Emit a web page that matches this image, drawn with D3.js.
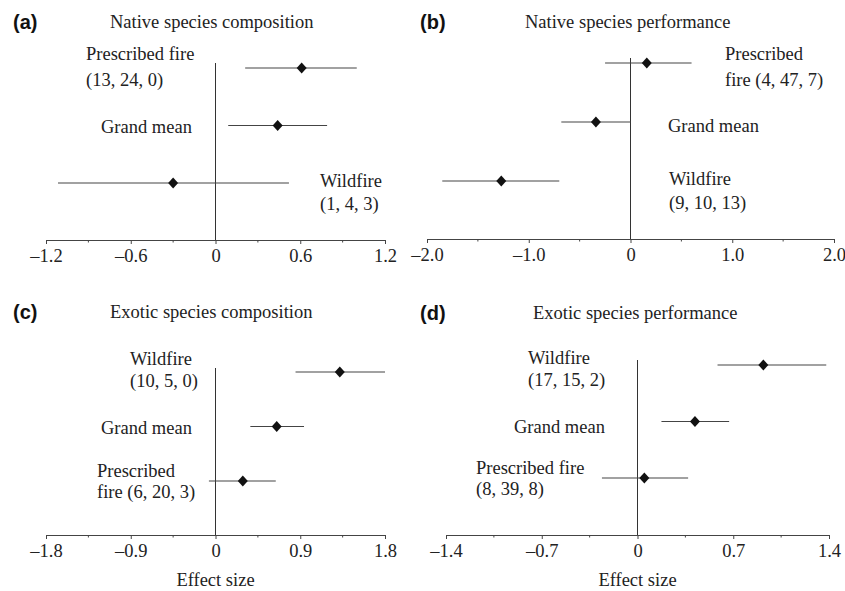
<!DOCTYPE html>
<html>
<head>
<meta charset="utf-8">
<script src="https://cdn.jsdelivr.net/npm/d3@7"></script>
<style>
  body { margin: 0; background: #fff; }
  svg { display: block; }
  .lbl { font-family: "Liberation Serif", "Times New Roman", serif; font-size: 18.5px; fill: #222; }
  .tag { font-family: "Liberation Sans", Arial, sans-serif; font-size: 20px; font-weight: bold; fill: #111; }
</style>
</head>
<body>
<svg id="chart" width="845" height="591"></svg>
<script>
// data
var rowNames = ["top", "mid", "bottom"];

var titlesAll = ["Native species composition", "Native species performance",
                 "Exotic species composition", "Exotic species performance"];
var tagsAll = ["(a)", "(b)", "(c)", "(d)"];

// effect size means, lower and upper CI, top row to bottom row
var meanA = [0.61, 0.44, -0.30];
var lowA  = [0.21, 0.09, -1.115];
var highA = [1.00, 0.79, 0.52];
var textA = [["Prescribed fire", "(13, 24, 0)"], ["Grand mean"], ["Wildfire", "(1, 4, 3)"]];

var meanB = [0.16, -0.34, -1.27];
var lowB  = [-0.25, -0.68, -1.85];
var highB = [0.60, 0.0, -0.70];
var textB = [["Prescribed", "fire (4, 47, 7)"], ["Grand mean"], ["Wildfire", "(9, 10, 13)"]];

var meanC = [1.32, 0.65, 0.29];
var lowC  = [0.85, 0.37, -0.07];
var highC = [1.80, 0.94, 0.64];
var textC = [["Wildfire", "(10, 5, 0)"], ["Grand mean"], ["Prescribed", "fire (6, 20, 3)"]];

var meanD = [0.92, 0.42, 0.05];
var lowD  = [0.585, 0.175, -0.26];
var highD = [1.38, 0.67, 0.37];
var textD = [["Wildfire", "(17, 15, 2)"], ["Grand mean"], ["Prescribed fire", "(8, 39, 8)"]];

var ticksA = [-1.2, -0.6, 0, 0.6, 1.2], tickTextA = ["\u20131.2", "\u20130.6", "0", "0.6", "1.2"];
var ticksB = [-2, -1, 0, 1, 2],         tickTextB = ["\u20132.0", "\u20131.0", "0", "1.0", "2.0"];
var ticksC = [-1.8, -0.9, 0, 0.9, 1.8], tickTextC = ["\u20131.8", "\u20130.9", "0", "0.9", "1.8"];
var ticksD = [-1.4, -0.7, 0, 0.7, 1.4], tickTextD = ["\u20131.4", "\u20130.7", "0", "0.7", "1.4"];

// layout of each panel (pixels)
var panels = [
  {mean: meanA, low: lowA, high: highA, text: textA, ticks: ticksA, tickText: tickTextA,
   x0: 46, x1: 385, axisY: 240, lineTop: 63, rowTop: 68, rowBot: 183, titleX: 110, titleY: 22, tagX: 13,
   labX: [86, 101, 320], labDy: [[-14, 12], [1], [-2, 21]], xlabel: false},
  {mean: meanB, low: lowB, high: highB, text: textB, ticks: ticksB, tickText: tickTextB,
   x0: 427, x1: 834, axisY: 239, lineTop: 58, rowTop: 63, rowBot: 181, titleX: 525, titleY: 22, tagX: 420,
   labX: [725, 668, 669], labDy: [[-9, 17], [4], [-2, 22]], xlabel: false},
  {mean: meanC, low: lowC, high: highC, text: textC, ticks: ticksC, tickText: tickTextC,
   x0: 46, x1: 385, axisY: 535, lineTop: 368, rowTop: 372, rowBot: 481, titleX: 110, titleY: 312, tagX: 13,
   labX: [130, 101, 97], labDy: [[-13, 9], [1], [-10, 11]], xlabel: true},
  {mean: meanD, low: lowD, high: highD, text: textD, ticks: ticksD, tickText: tickTextD,
   x0: 446, x1: 829, axisY: 535, lineTop: 360, rowTop: 365, rowBot: 478, titleX: 533, titleY: 313, tagX: 420,
   labX: [528, 514, 476], labDy: [[-7, 15], [5], [-10, 11]], xlabel: true}
];

var svg = d3.select("#chart");

panels.forEach(function(p, k) {
  var g = svg.append("g");
  var lim = p.ticks[p.ticks.length - 1];
  var x = d3.scaleLinear().domain([-lim, lim]).range([p.x0, p.x1]);
  var y = d3.scalePoint().domain(rowNames).range([p.rowTop, p.rowBot]);

  // tag and title
  g.append("text").attr("class", "tag")
    .attr("x", p.tagX).attr("y", p.titleY).attr("dy", "0.36em")
    .text(tagsAll[k]);
  g.append("text").attr("class", "lbl")
    .attr("x", p.titleX).attr("y", p.titleY).attr("dy", "0.33em")
    .text(titlesAll[k]);

  // x axis: major ticks labelled, minor ticks halfway
  var minor = d3.range(p.ticks.length - 1).map(function(i) { return (p.ticks[i] + p.ticks[i + 1]) / 2; });
  var axis = g.append("g")
    .attr("transform", "translate(0," + p.axisY + ")")
    .call(d3.axisBottom(x).tickValues(p.ticks).tickSize(4).tickSizeOuter(0)
      .tickFormat(function(d, i) { return p.tickText[i]; }));
  axis.select(".domain").attr("stroke", "#444");
  axis.selectAll(".tick line").attr("stroke", "#444");
  axis.selectAll(".tick text")
    .attr("class", "lbl").attr("fill", "#222")
    .attr("font-family", null).attr("font-size", null)
    .attr("y", 9).attr("dy", "0.71em");
  axis.selectAll(".minor").data(minor).enter().append("line")
    .attr("class", "minor")
    .attr("x1", function(d) { return x(d); }).attr("x2", function(d) { return x(d); })
    .attr("y1", 0).attr("y2", 2.5)
    .attr("stroke", "#444");

  // zero line
  g.append("line")
    .attr("x1", x(0)).attr("x2", x(0))
    .attr("y1", p.lineTop).attr("y2", p.axisY)
    .attr("stroke", "#333").attr("stroke-width", 1);

  // confidence intervals
  g.selectAll(".ci").data(rowNames).enter().append("line")
    .attr("x1", function(d, i) { return x(p.low[i]); })
    .attr("x2", function(d, i) { return x(p.high[i]); })
    .attr("y1", function(d) { return y(d); })
    .attr("y2", function(d) { return y(d); })
    .attr("stroke", "#444").attr("stroke-width", 1.1);

  // diamonds
  g.selectAll(".pt").data(rowNames).enter().append("path")
    .attr("d", "M0,-5.5L5,0L0,5.5L-5,0Z")
    .attr("transform", function(d, i) { return "translate(" + x(p.mean[i]) + "," + y(d) + ")"; })
    .attr("fill", "#111");

  // row labels
  rowNames.forEach(function(r, i) {
    p.text[i].forEach(function(t, j) {
      g.append("text").attr("class", "lbl")
        .attr("x", p.labX[i])
        .attr("y", y(r) + p.labDy[i][j])
        .attr("dy", "0.33em")
        .text(t);
    });
  });

  if (p.xlabel) {
    g.append("text").attr("class", "lbl")
      .attr("x", x(0)).attr("y", 580).attr("dy", "0.33em")
      .attr("text-anchor", "middle")
      .text("Effect size");
  }
});
</script>
</body>
</html>
